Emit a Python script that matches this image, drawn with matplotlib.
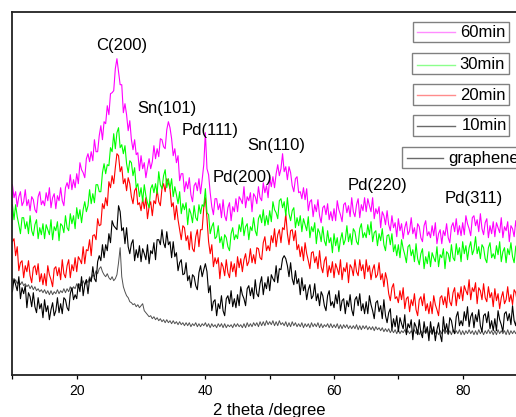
import numpy as np
import matplotlib
matplotlib.use('Agg')
import matplotlib.pyplot as plt
from matplotlib.patches import Rectangle
from matplotlib.lines import Line2D

plt.rcParams['font.family'] = ['Liberation Sans', 'DejaVu Sans']

# 2 theta axis (degrees), 0.25 deg step
two_theta = np.arange(10.0, 90.0, 0.25)

i_60min = [
    190,177,183,168, 178,183,169,173, 185,169,175,164, 178,175,165,162, 178,183,170,174,
    169,182,174,187, 167,177,181,166, 179,174,187,174, 169,187,192,186, 200,185,195,187,
    201,191,212,205, 202,197,216,221, 213,223,214,235, 223,223,239,249, 235,253,251,269,
    260,281,282,284, 306,316,303,290, 290,262,271,260, 244,254,235,225, 235,220,222,204,
    219,206,212,197, 207,216,206,213, 229,216,226,218, 236,235,228,226, 245,253,247,236,
    219,226,212,219, 194,201,201,183, 193,186,197,180, 173,189,192,184, 196,181,195,210,
    242,206,200,182, 168,160,176,176, 165,171,157,175, 159,154,167,172, 154,168,163,176,
    163,178,175,171, 188,167,178,174, 182,163,181,178, 171,188,177,174, 192,182,189,177,
    197,188,198,187, 201,210,199,206, 221,203,208,195, 208,202,189,183, 196,198,182,183,
    176,187,175,186, 164,173,175,158, 170,163,175,159, 152,167,169,160, 171,155,163,154,
    166,154,174,165, 160,153,170,172, 162,169,158,177, 163,158,170,176, 157,170,164,177,
    163,176,169,163, 177,156,166,161, 168,147,163,159, 150,164,150,144, 159,147,152,138,
    156,144,151,136, 147,153,140,144, 157,141,147,136, 151,148,137,133, 149,154,139,143,
    137,149,139,152, 131,141,145,131, 144,139,151,137, 132,148,152,143, 156,140,149,139,
    152,140,159,151, 146,139,157,159, 149,155,143,161, 146,140,152,156, 137,149,141,153,
    138,152,147,142, 157,137,148,144, 153,133,149,146, 138,154,141,137, 153,142,148,134,
]

i_30min = [
    170,155,170,158, 150,141,157,157, 146,153,141,159, 144,139,150,155, 136,147,140,151,
    136,150,145,140, 155,135,148,144, 153,134,151,149, 142,159,147,144, 161,151,159,146,
    167,156,165,152, 165,173,163,169, 185,171,181,172, 190,190,183,183, 202,211,201,210,
    209,227,223,241, 226,242,247,227, 230,221,229,211, 202,214,212,199, 207,187,191,178,
    187,173,190,179, 172,167,186,190, 182,191,181,203, 190,186,199,205, 187,196,186,196,
    178,188,180,171, 183,161,171,165, 172,150,166,161, 152,169,157,154, 170,161,170,168,
    186,162,160,141, 148,152,136,138, 149,132,138,126, 140,137,128,124, 141,147,135,140,
    136,150,143,157, 139,148,151,135, 148,144,157,144, 139,156,160,152, 165,149,159,150,
    164,153,173,165, 162,156,174,176, 167,173,159,177, 161,154,164,167, 147,157,149,159,
    143,156,150,144, 158,137,148,143, 152,131,146,142, 133,148,134,129, 144,132,137,122,
    141,129,137,123, 135,142,130,135, 149,133,141,130, 146,143,133,130, 146,151,137,142,
    137,150,140,153, 133,142,144,129, 141,134,146,130, 124,139,140,130, 141,123,130,119,
    130,117,135,126, 120,112,128,130, 119,125,113,131, 116,110,121,126, 106,118,111,123,
    108,122,117,113, 128,108,120,117, 126,106,123,121, 113,130,117,114, 131,120,127,113,
    133,121,129,115, 127,133,120,125, 138,121,128,116, 130,127,116,112, 127,132,117,121,
    116,129,120,133, 113,123,127,112, 126,120,132,118, 112,128,131,122, 134,117,125,115,
]

i_20min = [
    133,136,119,128, 104,112,114,97, 109,103,114,99, 92,107,109,100, 111,93,101,90,
    101,89,109,100, 95,88,106,108, 99,107,95,115, 101,97,109,115, 97,110,104,117,
    103,118,115,111, 128,111,125,124, 135,119,139,140, 135,156,149,150, 171,166,177,169,
    193,187,199,191, 207,221,219,203, 208,191,196,184, 197,191,178,171, 184,187,170,172,
    164,176,166,177, 156,168,173,159, 174,171,185,173, 169,186,191,183, 196,192,186,168,
    172,155,169,155, 145,135,149,147, 134,139,125,143, 126,123,138,145, 128,145,145,167,
    177,156,133,121, 130,108,117,111, 117,96,112,108, 99,115,102,97, 113,103,111,98,
    118,107,116,103, 115,121,109,113, 126,112,120,111, 127,126,117,115, 132,138,124,129,
    124,139,132,146, 128,140,145,132, 147,145,161,141, 130,144,145,134, 144,125,130,118,
    128,114,132,121, 114,106,122,123, 112,118,106,124, 108,102,114,118, 98,109,102,113,
    97,111,106,100, 115,95,107,103, 112,92,110,107, 99,115,103,99, 115,104,110,96,
    115,103,109,95, 105,110,97,100, 112,95,101,88, 102,95,81,74, 87,91,76,78,
    72,84,75,87, 66,76,78,63, 75,69,81,65, 59,75,78,69, 81,64,71,61,
    73,61,79,70, 65,59,77,79, 70,78,67,87, 73,69,82,87, 69,82,76,88,
    74,89,84,80, 95,75,87,83, 92,71,87,84, 75,91,77,73, 88,77,82,68,
    86,74,81,66, 77,83,71,75, 88,73,80,70, 85,82,72,68, 84,89,75,79,
]

i_10min = [
    83,96,90,84, 98,76,87,81, 89,67,82,78, 68,82,68,62, 77,66,71,57,
    75,63,69,55, 65,72,59,64, 77,62,71,61, 77,75,67,64, 81,87,75,80,
    76,91,83,98, 79,90,95,81, 96,93,108,96, 93,113,119,114, 130,117,130,124,
    141,132,154,149, 147,145,169,163, 144,147,131,147, 128,121,131,135, 114,125,117,129,
    113,126,121,115, 130,111,124,121, 132,115,135,135, 130,145,132,127, 143,130,133,117,
    133,118,122,104, 112,115,100,101, 112,94,99,87, 100,98,89,85, 102,109,98,105,
    111,103,82,89, 64,73,75,59, 71,66,79,64, 59,76,79,71, 84,68,76,67,
    80,69,88,80, 76,69,86,89, 79,87,76,95, 81,78,91,98, 80,92,86,98,
    84,100,96,93, 109,92,106,105, 116,119,116,109, 98,112,96,90, 104,91,96,80,
    97,84,90,75, 85,90,76,79, 91,74,81,69, 83,79,69,64, 79,84,69,73,
    67,80,71,84, 64,74,76,61, 74,68,80,65, 59,75,78,69, 81,64,71,61,
    73,61,79,70, 64,56,72,74, 63,69,56,75, 59,52,62,66, 45,56,48,59,
    43,57,51,46, 60,40,51,47, 55,35,52,48, 40,55,42,37, 53,42,48,34,
    53,41,48,34, 45,52,40,33, 58,43,51,41, 57,54,45,41, 58,63,49,54,
    49,63,54,68, 48,58,62,47, 60,53,65,49, 43,59,61,52, 63,46,54,44,
    56,44,64,55, 50,43,61,63, 54,61,50,69, 54,49,61,66, 47,59,52,64,
]

i_graphene = [
    96,92,95,91, 94,90,93,89, 91,88,90,86, 89,85,88,84, 86,83,85,82,
    85,81,84,80, 84,80,83,81, 85,81,84,82, 86,82,86,83, 88,84,88,86,
    91,87,91,89, 94,90,95,92, 98,95,100,98, 104,101,106,108, 103,100,98,101,
    97,95,98,94, 96,100,112,127, 98,88,83,79, 77,73,72,70, 71,68,70,67,
    69,71,64,62, 60,58,59,56, 58,55,57,54, 56,53,55,52, 55,52,54,51,
    54,51,53,50, 53,50,52,49, 52,49,52,48, 51,49,52,48, 51,48,51,49,
    52,48,51,47, 51,48,50,47, 51,48,51,47, 51,47,50,48, 50,47,51,48,
    51,48,50,47, 51,47,52,48, 51,48,52,49, 52,48,53,49, 53,49,54,50,
    53,50,54,49, 53,49,54,50, 52,49,53,48, 52,48,53,49, 52,48,51,48,
    52,47,51,48, 51,47,52,48, 51,48,52,47, 51,47,50,48, 51,47,51,47,
    50,47,51,46, 50,46,50,47, 50,46,49,46, 49,46,50,45, 49,45,49,46,
    49,45,48,45, 48,44,48,45, 47,44,47,43, 46,43,46,42, 45,42,45,41,
    45,41,44,42, 45,41,44,41, 44,41,45,41, 45,40,44,41, 44,41,45,40,
    44,40,45,41, 44,40,44,41, 45,41,44,40, 44,40,45,41, 44,41,45,40,
    44,40,44,41, 45,41,44,40, 44,40,45,41, 44,40,44,41, 45,41,44,40,
    44,40,45,41, 44,41,44,40, 45,40,44,41, 44,41,45,40, 44,40,44,41,
]

series_labels = ['60min', '30min', '20min', '10min', 'graphene']
series_values = [i_60min, i_30min, i_20min, i_10min, i_graphene]
series_colors = ['#ff00ff', '#00ff00', '#ff0000', '#000000', '#505050']
legend_colors = ['#ff8cff', '#8cff8c', '#ff8c8c', '#6a6a6a', '#6a6a6a']
peak_labels = ['C(200)', 'Sn(101)', 'Pd(111)', 'Pd(200)', 'Sn(110)', 'Pd(220)', 'Pd(311)']
x_major = [20, 40, 60, 80]
x_minor = [10, 30, 50, 70, 90]
x_label = '2 theta /degree'

W, H = 516, 417
fig = plt.figure(figsize=(W / 100, H / 100), dpi=100)
ax = fig.add_axes([12.4 / W, 1 - 374.7 / H, (527 - 12.4) / W, (374.7 - 12.3) / H])

# draw bottom-most first
for lab, vals, col in reversed(list(zip(series_labels, series_values, series_colors))):
    lw = 0.7 if lab == 'graphene' else 0.8
    ax.plot(two_theta, vals, color=col, lw=lw, zorder=2)

ax.set_xlim(10, 90)
ax.set_ylim(0, 362.4)
ax.set_yticks([])
ax.set_xticks(x_major)
ax.set_xticklabels([str(t) for t in x_major], fontsize=10)
ax.set_xticks(x_minor, minor=True)
ax.tick_params(axis='x', which='both', direction='out', length=2.7, width=0.9, pad=4)
for s in ['left', 'bottom', 'top']:
    ax.spines[s].set_linewidth(1.3)
    ax.spines[s].set_color('#222222')
ax.spines['right'].set_visible(False)

def fx(px):
    return px / W

def fy(py):
    return 1 - py / H

fig.text(fx(269.7), fy(415), x_label, fontsize=12, ha='center', va='baseline')

label_px = [(121.2, 45.5), (166.7, 109), (210, 131), (242, 177.7),
            (276.7, 145.7), (377.8, 185.7), (473.5, 199)]
for txt, (px, py) in zip(peak_labels, label_px):
    fig.text(fx(px), fy(py), txt, fontsize=12, ha='center', va='center')

# Origin-style separate legend boxes
boxes = [(412.7, 21.7, 509.3, 42.3), (411.7, 53.3, 508.7, 74.3),
         (412.7, 84.3, 509.3, 105.0), (412.7, 115.0, 509.3, 135.7),
         (401.7, 146.7, 540.0, 168.0)]
lines = [(417.3, 455.0, 32.3), (416.7, 454.5, 64.5), (417.3, 455.0, 95.0),
         (417.3, 455.0, 125.7), (406.7, 443.3, 158.3)]
text_x = [460.0, 459.3, 460.0, 461.7, 448.3]
for lab, lc, (x0, y0, x1, y1), (lx0, lx1, ly), tx in zip(series_labels, legend_colors, boxes, lines, text_x):
    fig.add_artist(Rectangle((fx(x0), fy(y1)), fx(x1) - fx(x0), fy(y0) - fy(y1),
                             transform=fig.transFigure, facecolor='white',
                             edgecolor='#808080', lw=1.0))
    fig.add_artist(Line2D([fx(lx0), fx(lx1)], [fy(ly), fy(ly)], transform=fig.transFigure,
                          color=lc, lw=1.0))
    fig.text(fx(tx), fy(ly), lab, fontsize=12, ha='left', va='center')

fig.savefig('out.png', dpi=100)
